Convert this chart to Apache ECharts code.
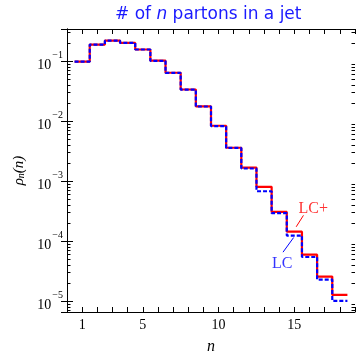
<!DOCTYPE html>
<html>
<head>
<meta charset="utf-8">
<script src="https://cdn.jsdelivr.net/npm/echarts@6/dist/echarts.min.js"></script>
<style>html,body{margin:0;padding:0;background:#fff}#c{width:358px;height:360px}</style>
</head>
<body>
<div id="c"></div>
<script>
// ---- data ----
const nValues = [1,2,3,4,5,6,7,8,9,10,11,12,13,14,15,16,17,18];
const lcPlus = [0.097,0.187,0.217,0.199,0.155,0.101,0.0635,0.0334,0.0175,0.0083,0.00357,0.00167,0.000798,0.000305,0.000143,0.000059,0.0000255,0.0000126];
const lc     = [0.097,0.187,0.217,0.199,0.155,0.100,0.0630,0.0332,0.0174,0.0082,0.00355,0.00161,0.000673,0.000290,0.000123,0.000054,0.0000227,0.0000100];
const xLabelTicks = [1,5,10,15];
const yDecades = [-6,-5,-4,-3,-2,-1];
const titleText = '# of {i|n} partons in a jet';
// annotations (data coords)
const lcPlusLabel = [16.25, 3.5e-4];
const lcPlusLeader = [[15.12, 1.72e-4],[15.6, 2.67e-4]];
const lcLabel = [14.2, 4.1e-5];
const lcLeader = [[14.25, 6.5e-5],[14.95, 1.14e-4]];

const X_MIN = 0, X_MAX = 19, Y_MIN = 6.55e-6, Y_MAX = 0.34;

function stepData(vals){
  const d = nValues.map((n,i)=>[n-0.5, vals[i]]);
  d.push([nValues[nValues.length-1]+0.5, vals[vals.length-1]]);
  return d;
}
const minorVals = [];
yDecades.forEach(p=>{ for(let k=2;k<=9;k++){ const v=k*Math.pow(10,p); if(v>Y_MIN && v<Y_MAX) minorVals.push([X_MIN, v]); }});

const serif = '"Liberation Serif", "DejaVu Serif", serif';
function yLabel(v){
  const l = Math.log10(v), e = Math.round(l);
  if (Math.abs(l-e) > 1e-6) return '';
  return '{b|10}{s|' + (e<0?'\u2212':'') + Math.abs(e) + '}';
}

const chart = echarts.init(document.getElementById('c'), null, {renderer:'canvas'});
const axisLine = {show:true, lineStyle:{color:'#000', width:1}};
chart.setOption({
  animation:false,
  title:{
    text: titleText, left: 110, top: 1,
    textStyle:{color:'#1a1aff', fontFamily:'"DejaVu Sans", sans-serif', fontWeight:'normal', fontSize:17,
      rich:{i:{color:'#1a1aff', fontFamily:'"DejaVu Sans", sans-serif', fontStyle:'italic', fontSize:17}}}
  },
  grid:{left:67, right:2, top:29, bottom:41, containLabel:false},
  xAxis:[{
    type:'value', min:X_MIN, max:X_MAX, interval:1, position:'bottom',
    axisLine, splitLine:{show:false},
    axisTick:{show:true, inside:true, length:5, lineStyle:{color:'#000'}},
    axisLabel:{margin:6, fontFamily:serif, fontSize:14, color:'#000',
      formatter:v=> xLabelTicks.includes(v) ? String(v) : ''},
    name:'n', nameLocation:'middle', nameGap:27,
    nameTextStyle:{fontFamily:serif, fontStyle:'italic', fontSize:16, color:'#000'}
  },{
    type:'value', min:X_MIN, max:X_MAX, interval:1, position:'top',
    axisLine, splitLine:{show:false},
    axisTick:{show:true, inside:true, length:5, lineStyle:{color:'#000'}},
    axisLabel:{show:false}
  }],
  yAxis:[{
    type:'log', min:Y_MIN, max:Y_MAX, logBase:10, position:'left',
    axisLine, splitLine:{show:false},
    axisTick:{show:true, inside:true, length:6, lineStyle:{color:'#000'}},
    axisLabel:{margin:4, color:'#000', formatter:yLabel,
      rich:{b:{fontFamily:serif, fontSize:14, color:'#000', lineHeight:22, verticalAlign:'bottom'},
            s:{fontFamily:serif, fontSize:10, color:'#000', lineHeight:22, verticalAlign:'top', padding:[0,0,0,1]}}},
    name:'{r|\u03c1}{sub|n}{r|(n)}', nameLocation:'middle', nameGap:38, nameRotate:90,
    nameTextStyle:{rich:{r:{fontFamily:serif, fontStyle:'italic', fontSize:15, color:'#000', lineHeight:20, verticalAlign:'bottom'},
      sub:{fontFamily:serif, fontStyle:'italic', fontSize:10, color:'#000', lineHeight:20, verticalAlign:'bottom'}}}
  },{
    type:'log', min:Y_MIN, max:Y_MAX, logBase:10, position:'right',
    axisLine, splitLine:{show:false},
    axisTick:{show:true, inside:true, length:6, lineStyle:{color:'#000'}},
    axisLabel:{show:false}
  }],
  series:[
    {type:'custom', xAxisIndex:0, yAxisIndex:0, silent:true, data:minorVals,
      renderItem:(params, api)=>{
        const cs = params.coordSys;
        const y = Math.round(api.coord([X_MIN, api.value(1)])[1]) + 0.5;
        return {type:'group', children:[
          {type:'line', shape:{x1:cs.x, y1:y, x2:cs.x+3.5, y2:y}, style:{stroke:'#000', lineWidth:1}},
          {type:'line', shape:{x1:cs.x+cs.width, y1:y, x2:cs.x+cs.width-3.5, y2:y}, style:{stroke:'#000', lineWidth:1}}
        ]};
      }},
    {type:'line', name:'LC+', step:'end', data:stepData(lcPlus), symbol:'none',
      lineStyle:{color:'#ff0000', width:2.2}, z:3},
    {type:'line', name:'LC', step:'end', data:stepData(lc), symbol:'none',
      lineStyle:{color:'#0000ff', width:2.2, type:[4,2]}, z:4},
    {type:'line', data:lcPlusLeader, symbol:'none', lineStyle:{color:'#ff0000', width:1}, z:5, silent:true},
    {type:'line', data:lcLeader, symbol:'none', lineStyle:{color:'#0000ff', width:1}, z:5, silent:true},
    {type:'scatter', data:[lcPlusLabel], symbolSize:0, silent:true, z:6,
      label:{show:true, position:'inside', formatter:'LC+', fontFamily:serif, fontSize:16, color:'#ff0000'}},
    {type:'scatter', data:[lcLabel], symbolSize:0, silent:true, z:6,
      label:{show:true, position:'inside', formatter:'LC', fontFamily:serif, fontSize:16, color:'#0000ff'}}
  ]
});
</script>
</body>
</html>
